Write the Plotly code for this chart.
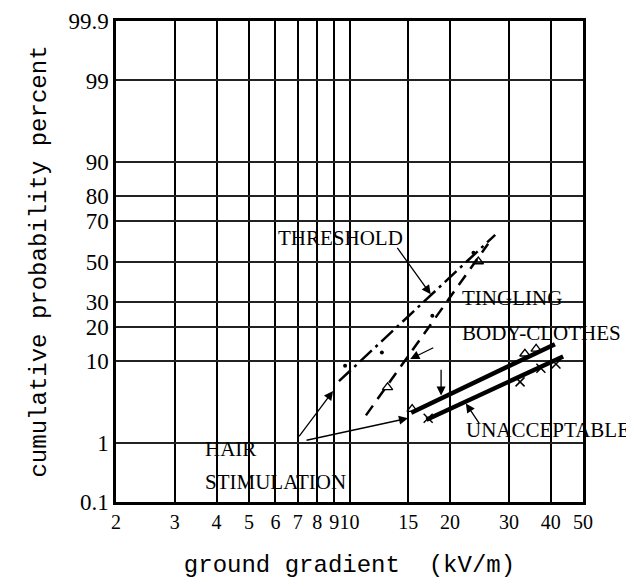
import math
from statistics import NormalDist
import plotly.graph_objects as go

# ---------------- data ----------------
x_ticks = [2, 3, 4, 5, 6, 7, 8, 9, 10, 15, 20, 30, 40, 50]
x_ticklabels = ["2", "3", "4", "5", "6", "7", "8", "9", "10", "15", "20", "30", "40", "50"]
y_ticks = [0.1, 1, 10, 20, 30, 50, 70, 80, 90, 99, 99.9]
y_ticklabels = ["0.1", "1", "10", "20", "30", "50", "70", "80", "90", "99", "99.9"]

# hair stimulation (dash-dot fitted line and dot observations)
hair_line_x = [9.3, 27.3]
hair_line_p = [6.2, 63.4]
hair_pts_x = [9.7, 12.5, 17.7, 23.5]
hair_pts_p = [9.0, 12.1, 24.3, 54.5]

# tingling (steeper dashed line and triangle observations)
ting_line_x = [11.2, 26.0]
ting_line_p = [2.4, 59.0]
ting_pts_x = [13.0, 24.3]
ting_pts_p = [5.3, 50.0]

# body-clothes (upper thick line, triangles)
body_line_x = [15.3, 41.2]
body_line_p = [2.6, 14.4]
body_pts_x = [15.4, 33.5, 36.2]
body_pts_p = [2.9, 11.8, 13.1]

# unacceptable (lower thick line, crosses)
unacc_line_x = [17.0, 43.6]
unacc_line_p = [2.1, 11.1]
unacc_pts_x = [17.2, 32.4, 37.4, 41.5]
unacc_pts_p = [2.2, 6.1, 8.5, 9.4]

# labels: text, left x (kV/m), centre y (percent)
label_text = ["THRESHOLD", "TINGLING", "BODY-CLOTHES", "UNACCEPTABLE", "HAIR", "STIMULATION"]
label_x = [6.03, 21.4, 21.4, 22.0, 3.64, 3.64]
label_p = [62.1, 32.1, 18.0, 1.53, 0.81, 0.226]

# arrows: tail (x, p) -> head (x, p)
arrow_tail_x = [7.01, 7.36, 13.8, 18.0, 18.8, 24.6]
arrow_tail_p = [1.17, 1.07, 57.7, 13.6, 8.5, 1.81]
arrow_head_x = [8.93, 14.97, 17.5, 15.2, 18.8, 22.3]
arrow_head_p = [4.8, 2.2, 33.7, 10.5, 4.25, 3.4]

# ---------------- probability scale ----------------
nd = NormalDist()


def z(p):
    return nd.inv_cdf(p / 100.0)


def zs(ps):
    return [z(p) for p in ps]


SERIF = "Liberation Serif"
MONO = "Liberation Mono"

fig = go.Figure()

fig.add_trace(go.Scatter(x=hair_line_x, y=zs(hair_line_p), mode="lines",
                         line=dict(color="black", width=2.5, dash="16px,5px,3px,5px"),
                         showlegend=False))
fig.add_trace(go.Scatter(x=hair_pts_x, y=zs(hair_pts_p), mode="markers",
                         marker=dict(symbol="circle", size=4, color="black"),
                         showlegend=False))
fig.add_trace(go.Scatter(x=ting_line_x, y=zs(ting_line_p), mode="lines",
                         line=dict(color="black", width=2.5, dash="12px,8px"),
                         showlegend=False))
fig.add_trace(go.Scatter(x=ting_pts_x, y=zs(ting_pts_p), mode="markers",
                         marker=dict(symbol="triangle-up-open", size=9, color="black",
                                     line=dict(width=1.3)),
                         showlegend=False))
fig.add_trace(go.Scatter(x=body_line_x, y=zs(body_line_p), mode="lines",
                         line=dict(color="black", width=4.5), showlegend=False))
fig.add_trace(go.Scatter(x=body_pts_x, y=zs(body_pts_p), mode="markers",
                         marker=dict(symbol="triangle-up-open", size=9, color="black",
                                     line=dict(width=1.3)),
                         showlegend=False))
fig.add_trace(go.Scatter(x=unacc_line_x, y=zs(unacc_line_p), mode="lines",
                         line=dict(color="black", width=4.5), showlegend=False))
fig.add_trace(go.Scatter(x=unacc_pts_x, y=zs(unacc_pts_p), mode="markers",
                         marker=dict(symbol="x-thin-open", size=9, color="black",
                                     line=dict(width=1.5, color="black")),
                         showlegend=False))

annotations = []
for t, lx, lp in zip(label_text, label_x, label_p):
    annotations.append(dict(x=math.log10(lx), y=z(lp), xref="x", yref="y", text=t,
                            showarrow=False, xanchor="left", yanchor="middle",
                            font=dict(family=SERIF, size=21, color="black")))
for tx, tp, hx, hp in zip(arrow_tail_x, arrow_tail_p, arrow_head_x, arrow_head_p):
    annotations.append(dict(x=math.log10(hx), y=z(hp), xref="x", yref="y",
                            ax=math.log10(tx), ay=z(tp), axref="x", ayref="y",
                            text="", showarrow=True, arrowhead=2, arrowsize=1.4,
                            arrowwidth=1.3, arrowcolor="black"))

fig.update_layout(
    width=634, height=586,
    margin=dict(l=108, r=59, t=13, b=92, autoexpand=False),
    paper_bgcolor="white", plot_bgcolor="white",
    annotations=annotations,
    showlegend=False,
)
fig.update_xaxes(
    type="log", range=[math.log10(2), math.log10(50)],
    tickmode="array", tickvals=x_ticks, ticktext=x_ticklabels,
    tickangle=0, automargin=False,
    showgrid=True, gridcolor="black", gridwidth=2,
    showline=True, linecolor="black", linewidth=2.5, mirror=True,
    ticks="", ticklen=0,
    tickfont=dict(family=SERIF, size=20, color="black"),
    zeroline=False,
    title=dict(text="ground gradient  (kV/m)", standoff=24,
               font=dict(family=MONO, size=24, color="black")),
)
fig.update_yaxes(
    range=[z(0.1), z(99.9)], automargin=False,
    tickmode="array", tickvals=zs(y_ticks), ticktext=y_ticklabels,
    showgrid=True, gridcolor="#222222", gridwidth=1.5,
    showline=True, linecolor="black", linewidth=2.5, mirror=True,
    ticks="", ticklen=0,
    tickfont=dict(family=SERIF, size=23, color="black"),
    zeroline=False,
    title=dict(text="cumulative probability percent", standoff=16,
               font=dict(family=MONO, size=24, color="black")),
)

fig.write_html("out.html")
